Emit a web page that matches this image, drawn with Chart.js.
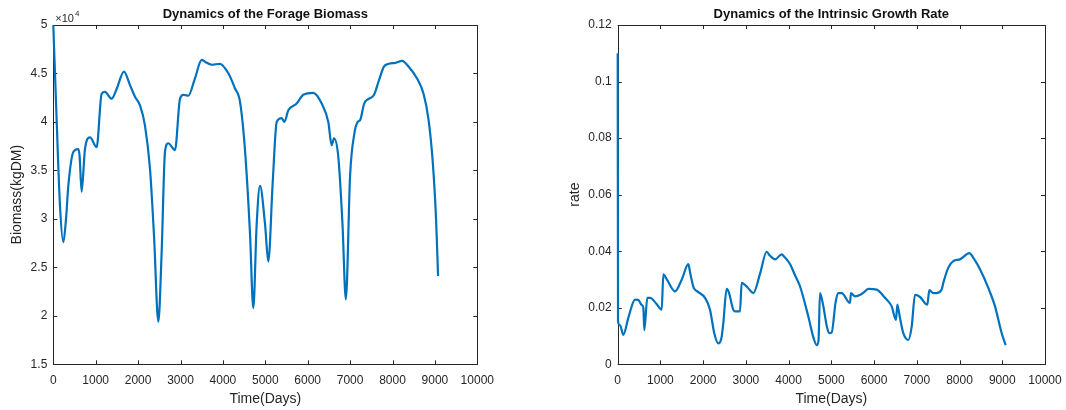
<!DOCTYPE html>
<html>
<head>
<meta charset="utf-8">
<script src="https://cdn.jsdelivr.net/npm/chart.js@4.4.1/dist/chart.umd.min.js"></script>
<style>
  body { margin: 0; background: #fff; }
  .panel { position: absolute; top: 0; width: 533px; height: 410px; }
</style>
</head>
<body>
<div class="panel" style="left:0"><canvas id="biomassChart" width="533" height="410"></canvas></div>
<div class="panel" style="left:533px"><canvas id="rateChart" width="533" height="410"></canvas></div>
<script>
// Forage biomass (x10^4 kgDM) over time
const biomassDays = [0, 78, 157, 236, 300, 354, 472, 590, 620, 668, 747, 865, 1022,
  1140, 1219, 1376, 1494, 1667, 1809, 1927, 2045, 2163, 2280, 2375, 2477,
  2555, 2634, 2712, 2870, 2988, 3066, 3184, 3341, 3500, 3578, 3736, 3932,
  4090, 4167, 4280, 4403, 4521, 4639, 4717, 4797, 4875, 4993, 5071, 5174,
  5269, 5387, 5450, 5543, 5740, 5896, 6132, 6330, 6486, 6565, 6620, 6722,
  6820, 6900, 7000, 7100, 7180, 7238, 7331, 7448, 7565, 7681, 7798, 7915,
  8070, 8226, 8382, 8576, 8732, 8848, 8949, 9027, 9075];
const biomassValues = [5.0, 4.03, 3.14, 2.76, 3.0, 3.34, 3.69, 3.72, 3.65, 3.28, 3.72, 3.84, 3.74,
  4.29, 4.31, 4.24, 4.34, 4.52, 4.38, 4.26, 4.17, 3.96, 3.52, 2.83, 1.94,
  2.65, 3.69, 3.78, 3.71, 4.24, 4.28, 4.27, 4.45, 4.64, 4.62, 4.59, 4.60,
  4.53, 4.47, 4.35, 4.21, 3.71, 2.85, 2.08, 2.95, 3.34, 2.95, 2.56, 3.37,
  4.0, 4.04, 4.0, 4.12, 4.19, 4.28, 4.30, 4.19, 4.0, 3.76, 3.83, 3.64,
  2.95, 2.17, 3.45, 3.88, 4.0, 4.02, 4.19, 4.24, 4.28, 4.43, 4.57, 4.60,
  4.61, 4.63, 4.57, 4.45, 4.29, 4.03, 3.59, 3.0, 2.41];

// Intrinsic growth rate over time
const rateDays = [0, 8, 54, 131, 250, 405, 480, 561, 600, 623, 693, 760, 900, 1030, 1068, 1150,
  1341, 1500, 1653, 1700, 1780, 1863, 2043, 2160, 2260, 2355, 2430, 2471, 2550, 2600, 2700, 2745,
  2862, 2901, 3050, 3174, 3330, 3486, 3560, 3681, 3838, 3900, 4032, 4150, 4266, 4461, 4580, 4657,
  4700, 4734, 4812, 4900, 4952, 5007, 5100, 5163, 5241, 5436, 5460, 5553, 5700, 5787, 5865, 6061,
  6256, 6412, 6513, 6544, 6607, 6684, 6801, 6880, 6958, 7075, 7246, 7293, 7386, 7465, 7582, 7620,
  7737, 7854, 8011, 8228, 8350, 8479, 8673, 8830, 8987, 9080];
const rateValues = [0.110, 0.015, 0.0139, 0.0104, 0.0165, 0.0229, 0.0228, 0.0210, 0.0200, 0.0121, 0.0235, 0.0235, 0.0215, 0.0193, 0.0318, 0.0300,
  0.0258, 0.0300, 0.0354, 0.0320, 0.0270, 0.0258, 0.0235, 0.0193, 0.0110, 0.0074, 0.0095, 0.0145, 0.0267, 0.0255, 0.0195, 0.0187,
  0.0187, 0.0288, 0.0270, 0.0252, 0.0320, 0.0398, 0.0385, 0.0371, 0.0389, 0.0380, 0.0355, 0.0315, 0.0276, 0.0169, 0.0095, 0.0068,
  0.0085, 0.0252, 0.0205, 0.0130, 0.0110, 0.0112, 0.0220, 0.0252, 0.0252, 0.0217, 0.0252, 0.0240, 0.0248, 0.0258, 0.0267, 0.0264,
  0.0235, 0.0205, 0.0157, 0.0211, 0.0163, 0.0110, 0.0086, 0.0133, 0.0246, 0.0238, 0.0211, 0.0262, 0.0252, 0.0252, 0.0265, 0.0288,
  0.0342, 0.0365, 0.0371, 0.0393, 0.0370, 0.0336, 0.0270, 0.0205, 0.0110, 0.0068];

// tick labels
const dayTicks = [0, 1000, 2000, 3000, 4000, 5000, 6000, 7000, 8000, 9000, 10000];
const biomassTicks = [1.5, 2, 2.5, 3, 3.5, 4, 4.5, 5];
const rateTicks = [0, 0.02, 0.04, 0.06, 0.08, 0.1, 0.12];

const axisColor = '#262626';
const lineColor = '#0072BD';
const fontFamily = '"Liberation Sans", Arial, sans-serif';

// box around plot area + inward tick marks (matlab look), drawn under the line
const boxPlugin = {
  id: 'boxTicks',
  beforeDatasetsDraw(chart, args, opts) {
    const { ctx, chartArea: a, scales } = chart;
    ctx.save();
    ctx.strokeStyle = axisColor;
    ctx.lineWidth = 1;
    ctx.strokeRect(Math.round(a.left) + 0.5, Math.round(a.top) + 0.5,
      Math.round(a.right - a.left), Math.round(a.bottom - a.top));
    ctx.beginPath();
    scales.x.ticks.forEach(t => {
      const x = Math.round(scales.x.getPixelForValue(t.value)) + 0.5;
      ctx.moveTo(x, a.bottom); ctx.lineTo(x, a.bottom - 4);
      ctx.moveTo(x, a.top); ctx.lineTo(x, a.top + 4);
    });
    scales.y.ticks.forEach(t => {
      const y = Math.round(scales.y.getPixelForValue(t.value)) + 0.5;
      ctx.moveTo(a.left, y); ctx.lineTo(a.left + 4, y);
      ctx.moveTo(a.right, y); ctx.lineTo(a.right - 4, y);
    });
    ctx.stroke();
    // exponent label
    if (opts.exponent) {
      ctx.fillStyle = axisColor;
      ctx.textBaseline = 'alphabetic';
      ctx.font = '11px ' + fontFamily;
      ctx.fillText('\u00d710', a.left + 2, a.top - 3);
      const w = ctx.measureText('\u00d710').width;
      ctx.font = '8px ' + fontFamily;
      ctx.fillText(opts.exponent, a.left + 2 + w + 1, a.top - 9);
    }
    ctx.restore();
  }
};

function makeChart(id, days, values, cfg) {
  const ctx = document.getElementById(id).getContext('2d');
  return new Chart(ctx, {
    type: 'line',
    data: {
      datasets: [{
        data: days.map((d, i) => ({ x: d, y: values[i] })),
        borderColor: lineColor,
        borderWidth: 2.2,
        pointRadius: 0,
        cubicInterpolationMode: 'monotone',
        borderJoinStyle: 'round',
        clip: 4,
        fill: false
      }]
    },
    plugins: [boxPlugin],
    options: {
      responsive: false,
      animation: false,
      layout: { padding: { top: 0, left: 0, bottom: 0, right: cfg.padRight } },
      plugins: {
        legend: { display: false },
        tooltip: { enabled: false },
        title: {
          display: true,
          text: cfg.title,
          fullSize: false,
          color: '#111',
          font: { family: fontFamily, size: 13, weight: 'bold' },
          padding: { top: 6.2, bottom: 3.2 }
        },
        boxTicks: { exponent: cfg.exponent }
      },
      scales: {
        x: {
          type: 'linear',
          min: 0,
          max: 10000,
          grid: { display: false, drawTicks: false },
          border: { display: false },
          afterBuildTicks: s => { s.ticks = dayTicks.map(v => ({ value: v })); },
          afterFit: s => { s.height = 45.7; s.paddingLeft = 0; s.paddingRight = 0; },
          ticks: {
            color: axisColor,
            padding: 9,
            maxRotation: 0,
            autoSkip: false,
            font: { family: fontFamily, size: 12 },
            callback: v => String(v)
          },
          title: {
            display: true,
            text: 'Time(Days)',
            color: axisColor,
            font: { family: fontFamily, size: 14 },
            padding: { top: 0, bottom: 2.6 }
          }
        },
        y: {
          type: 'linear',
          min: cfg.yTicks[0],
          max: cfg.yTicks[cfg.yTicks.length - 1],
          grid: { display: false, drawTicks: false },
          border: { display: false },
          afterBuildTicks: s => { s.ticks = cfg.yTicks.map(v => ({ value: v })); },
          afterFit: s => { s.width = cfg.yWidth; s.paddingTop = 0; s.paddingBottom = 0; },
          ticks: {
            color: axisColor,
            padding: 6,
            autoSkip: false,
            font: { family: fontFamily, size: 12 },
            callback: v => String(v)
          },
          title: {
            display: true,
            text: cfg.yLabel,
            color: axisColor,
            font: { family: fontFamily, size: 14 },
            padding: { top: cfg.yTitlePad, bottom: 0 }
          }
        }
      }
    }
  });
}

makeChart('biomassChart', biomassDays, biomassValues, {
  title: 'Dynamics of the Forage Biomass',
  yLabel: 'Biomass(kgDM)',
  yTicks: biomassTicks,
  yWidth: 53.3,
  yTitlePad: 8.6,
  padRight: 55.7,
  exponent: '4'
});

makeChart('rateChart', rateDays, rateValues, {
  title: 'Dynamics of the Intrinsic Growth Rate',
  yLabel: 'rate',
  yTicks: rateTicks,
  yWidth: 84.7,
  yTitlePad: 33.6,
  padRight: 21,
  exponent: null
});
</script>
</body>
</html>
